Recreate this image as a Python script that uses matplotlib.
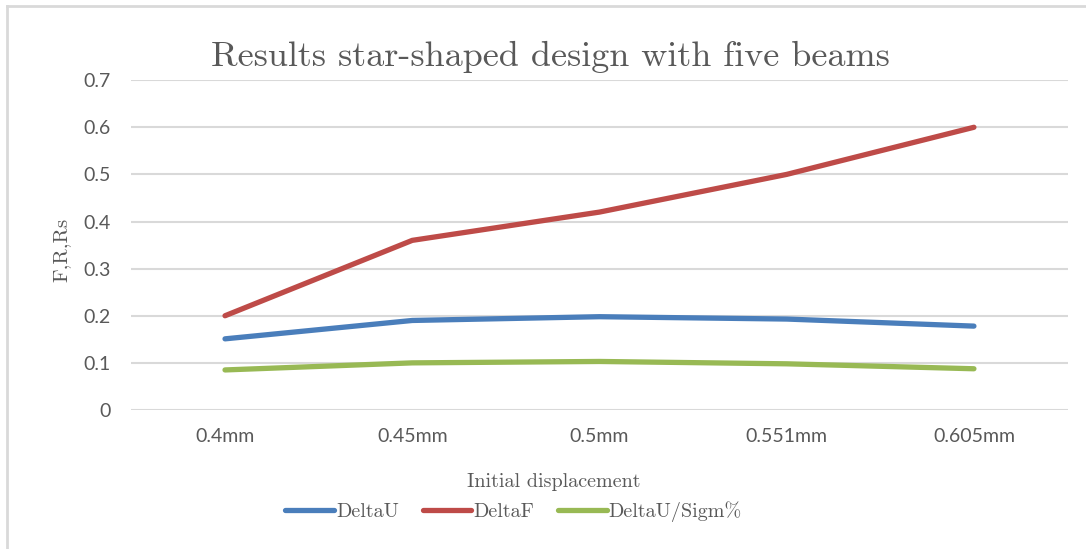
import matplotlib.pyplot as plt
from matplotlib.lines import Line2D

categories = ["0.4mm", "0.45mm", "0.5mm", "0.551mm", "0.605mm"]
delta_u = [0.151, 0.190, 0.198, 0.193, 0.178]
delta_f = [0.20, 0.36, 0.42, 0.50, 0.60]
delta_u_sigm = [0.085, 0.100, 0.103, 0.098, 0.0875]
yticks = [0, 0.1, 0.2, 0.3, 0.4, 0.5, 0.6, 0.7]

serif = "cmr10"
tick_font = ["Lato", "DejaVu Sans"]

fig = plt.figure(figsize=(10.86, 5.49), dpi=100)
ax = fig.add_axes([0.121, 0.2532, 0.862, 0.6008])

x = range(len(categories))
ax.plot(x, delta_u, color="#4A7EBB", lw=3.8, solid_capstyle="round", label="DeltaU")
ax.plot(x, delta_f, color="#BE4B48", lw=3.8, solid_capstyle="round", label="DeltaF")
ax.plot(x, delta_u_sigm, color="#98B954", lw=3.8, solid_capstyle="round", label="DeltaU/Sigm%")

ax.set_xlim(-0.5, len(categories) - 0.5)
ax.set_ylim(0, 0.7)
ax.set_xticks(list(x))
ax.set_xticklabels(categories)
ax.set_yticks(yticks)
ax.set_yticklabels([f"{v:g}" for v in yticks])
ax.grid(axis="y", color="#D9D9D9", lw=1.5)
ax.set_axisbelow(True)
ax.tick_params(length=0, colors="#595959", labelsize=14)
ax.tick_params(axis="x", pad=13)
ax.tick_params(axis="y", pad=15)
for lab in ax.get_xticklabels() + ax.get_yticklabels():
    lab.set_family(tick_font)
for s in ax.spines.values():
    s.set_visible(False)

fig.text(0.507, 0.897, "Results star-shaped design with five beams",
         family=serif, fontsize=26, color="#595959", ha="center", va="center")
fig.text(0.057, 0.545, "F,R,Rs", family=serif, fontsize=15, color="#595959",
         rotation=90, ha="center", va="center")
fig.text(0.51, 0.122, "Initial displacement", family=serif, fontsize=14.5,
         color="#595959", ha="center", va="center")

leg = fig.legend(loc="center", bbox_to_anchor=(0.473, 0.068), ncol=3, frameon=False,
                 prop={"family": serif, "size": 14.5}, handlelength=2.4,
                 handletextpad=0.1, columnspacing=1.2)
for t in leg.get_texts():
    t.set_color("#595959")

# thin frame at top and left edge
fig.add_artist(Line2D([0.0065, 1.0], [0.989, 0.989], color="#D9D9D9", lw=2))
fig.add_artist(Line2D([0.0065, 0.0065], [0.0, 0.989], color="#D9D9D9", lw=2))

fig.savefig("out.png", dpi=100, facecolor="white")
